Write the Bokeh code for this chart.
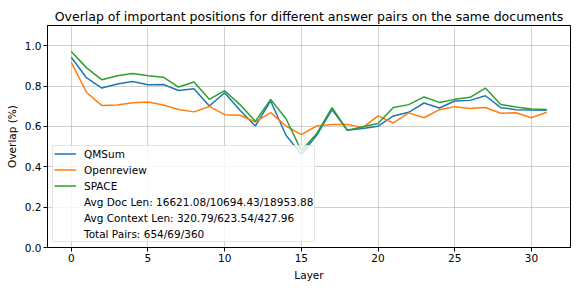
from bokeh.plotting import figure
from bokeh.models import Legend, LegendItem, ColumnDataSource, FixedTicker, Range1d, CustomJSTickFormatter
from bokeh.embed import file_html
from bokeh.resources import INLINE

layers = list(range(32))
qmsum = [0.943, 0.840, 0.790, 0.810, 0.823, 0.806, 0.808, 0.778, 0.787, 0.701,
         0.767, 0.680, 0.602, 0.726, 0.556, 0.462, 0.556, 0.683, 0.581, 0.590,
         0.601, 0.652, 0.670, 0.716, 0.691, 0.726, 0.729, 0.752, 0.693, 0.683,
         0.681, 0.680]
openreview = [0.917, 0.768, 0.703, 0.706, 0.717, 0.721, 0.706, 0.684, 0.672, 0.699,
              0.658, 0.655, 0.622, 0.668, 0.602, 0.559, 0.602, 0.610, 0.610, 0.594,
              0.652, 0.617, 0.667, 0.643, 0.683, 0.698, 0.689, 0.694, 0.665, 0.668,
              0.643, 0.670]
space = [0.971, 0.890, 0.831, 0.851, 0.862, 0.851, 0.844, 0.795, 0.820, 0.734,
         0.777, 0.708, 0.625, 0.734, 0.638, 0.480, 0.564, 0.693, 0.581, 0.598,
         0.614, 0.694, 0.708, 0.746, 0.719, 0.734, 0.744, 0.790, 0.708, 0.696,
         0.686, 0.684]
series_names = ["QMSum", "Openreview", "SPACE"]
extra_labels = ["Avg Doc Len: 16621.08/10694.43/18953.88",
                "Avg Context Len: 320.79/623.54/427.96",
                "Total Pairs: 654/69/360"]
x_ticks = [0, 5, 10, 15, 20, 25, 30]
y_ticks = [0.0, 0.2, 0.4, 0.6, 0.8, 1.0]
title_text = "Overlap of important positions for different answer pairs on the same documents"

FONT = "DejaVu Sans"
colors = ["#1f77b4", "#ff7f0e", "#2ca02c"]

p = figure(width=573, height=283, output_backend="svg",
           toolbar_location=None, title=title_text,
           x_range=Range1d(-1.55, 32.55), y_range=Range1d(0, 1.1),
           min_border_left=47, min_border_right=3, min_border_top=25,
           min_border_bottom=33)
p.title.text_font = FONT
p.title.text_font_size = "12.5px"
p.title.text_font_style = "normal"
p.title.text_color = "black"
p.title.align = "center"
p.title.standoff = 4

src = ColumnDataSource(dict(layer=layers, q=qmsum, o=openreview, s=space))
items = []
for col, name, c in zip(["q", "o", "s"], series_names, colors):
    r = p.line("layer", col, source=src, line_color=c, line_width=1.5)
    items.append(LegendItem(label=name, renderers=[r]))
for lab in extra_labels:
    r = p.line(x=[], y=[], line_alpha=0)
    items.append(LegendItem(label=lab, renderers=[r]))

legend = Legend(items=items, location=(5, 5))
legend.label_text_font = FONT
legend.label_text_font_size = "10.5px"
legend.label_text_color = "black"
legend.glyph_width = 22
legend.glyph_height = 13
legend.label_height = 13
legend.spacing = 3
legend.padding = 1
legend.margin = 0
legend.label_standoff = 8
legend.border_line_color = "#cccccc"
legend.background_fill_alpha = 0.8
p.add_layout(legend, "center")

p.xaxis.ticker = FixedTicker(ticks=x_ticks)
p.yaxis.ticker = FixedTicker(ticks=y_ticks)
p.yaxis.formatter = CustomJSTickFormatter(code="return tick.toFixed(1);")
p.xaxis.axis_label = "Layer"
p.yaxis.axis_label = "Overlap (%)"
for ax in (p.xaxis, p.yaxis):
    ax.axis_label_text_font = FONT
    ax.axis_label_text_font_size = "10.5px"
    ax.axis_label_text_font_style = "normal"
    ax.axis_label_text_color = "black"
    ax.major_label_text_font = FONT
    ax.major_label_text_font_size = "10.5px"
    ax.major_label_text_color = "black"
    ax.major_tick_out = 4
    ax.major_tick_in = 0
    ax.minor_tick_line_color = None
    ax.axis_line_color = "black"
    ax.major_tick_line_color = "black"
    ax.major_label_standoff = 2
    ax.axis_label_standoff = 4

p.outline_line_color = "black"
p.grid.grid_line_color = "#b0b0b0"
p.grid.grid_line_alpha = 0.6
p.background_fill_color = "white"

open("out.html", "w").write(file_html(p, INLINE))
